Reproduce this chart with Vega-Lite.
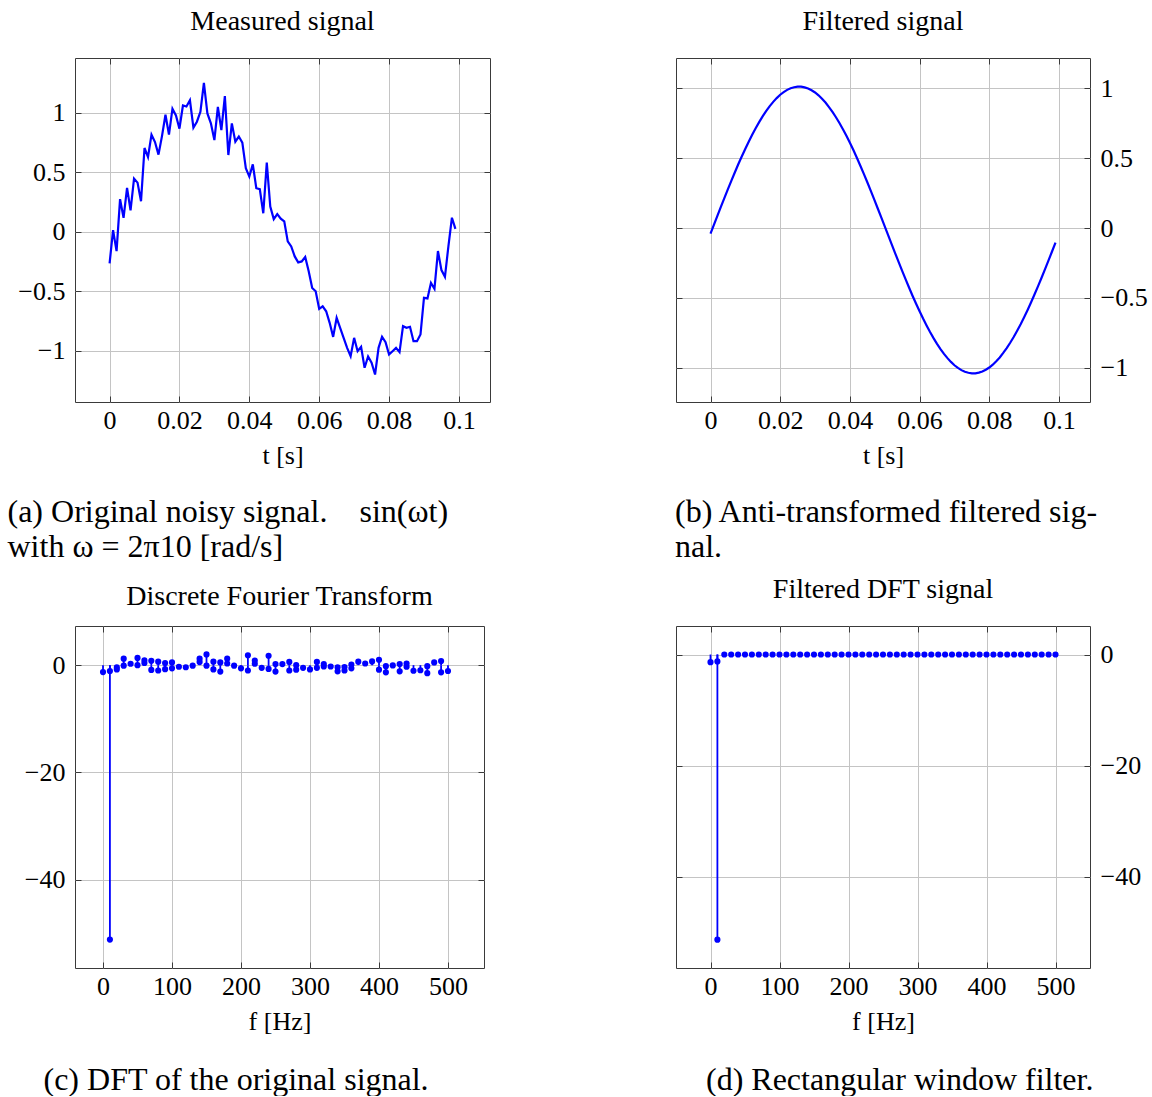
{
  "$schema": "https://vega.github.io/schema/vega-lite/v6.json",
  "padding": {"left": 7, "top": 7, "right": 0, "bottom": 0},
  "background": "white",
  "columns": 2,
  "align": {"row": "each", "column": "none"},
  "spacing": {"row": 12, "column": 184},
  "config": {
    "font": "Liberation Serif",
    "view": {"stroke": "#3a3a3a", "strokeWidth": 1},
    "axis": {
      "labelFont": "Liberation Serif", "labelFontSize": 26, "labelColor": "#000",
      "titleFont": "Liberation Serif", "titleFontSize": 26, "titleFontWeight": "normal", "titleColor": "#000",
      "gridColor": "#c4c4c4", "gridWidth": 1, "tickColor": "#3a3a3a", "tickSize": -6, "tickWidth": 1,
      "domain": false, "labelPadding": 16, "titlePadding": 9
    },
    "axisX": {"labelPadding": 11},
    "title": {"font": "Liberation Serif", "fontSize": 28, "fontWeight": "normal", "color": "#000"}
  },
  "datasets": {
    "noisy": [
      {"t":0.000,"v":-0.265},{"t":0.001,"v":0.014},{"t":0.002,"v":-0.162},{"t":0.003,"v":0.274},{"t":0.004,"v":0.117},
      {"t":0.005,"v":0.369},{"t":0.006,"v":0.18},{"t":0.007,"v":0.447},{"t":0.008,"v":0.413},{"t":0.009,"v":0.257},
      {"t":0.010,"v":0.704},{"t":0.011,"v":0.628},{"t":0.012,"v":0.816},{"t":0.013,"v":0.754},{"t":0.014,"v":0.648},
      {"t":0.015,"v":0.804},{"t":0.016,"v":0.983},{"t":0.017,"v":0.816},{"t":0.018,"v":1.034},{"t":0.019,"v":0.978},
      {"t":0.020,"v":0.866},{"t":0.021,"v":1.061},{"t":0.022,"v":1.053},{"t":0.023,"v":1.105},{"t":0.024,"v":0.875},
      {"t":0.025,"v":0.925},{"t":0.026,"v":1.008},{"t":0.027,"v":1.25},{"t":0.028,"v":0.994},{"t":0.029,"v":0.911},
      {"t":0.030,"v":0.771},{"t":0.031,"v":1.05},{"t":0.032,"v":0.855},{"t":0.033,"v":1.14},{"t":0.034,"v":0.645},
      {"t":0.035,"v":0.911},{"t":0.036,"v":0.757},{"t":0.037,"v":0.8},{"t":0.038,"v":0.749},{"t":0.039,"v":0.534},
      {"t":0.040,"v":0.464},{"t":0.041,"v":0.567},{"t":0.042,"v":0.366},{"t":0.043,"v":0.358},{"t":0.044,"v":0.156},
      {"t":0.045,"v":0.581},{"t":0.046,"v":0.212},{"t":0.047,"v":0.106},{"t":0.048,"v":0.148},{"t":0.049,"v":0.11},
      {"t":0.050,"v":0.087},{"t":0.051,"v":-0.081},{"t":0.052,"v":-0.123},{"t":0.053,"v":-0.207},{"t":0.054,"v":-0.257},
      {"t":0.055,"v":-0.249},{"t":0.056,"v":-0.212},{"t":0.057,"v":-0.332},{"t":0.058,"v":-0.472},{"t":0.059,"v":-0.5},
      {"t":0.060,"v":-0.648},{"t":0.061,"v":-0.626},{"t":0.062,"v":-0.668},{"t":0.063,"v":-0.765},{"t":0.064,"v":-0.883},
      {"t":0.065,"v":-0.723},{"t":0.066,"v":-0.807},{"t":0.067,"v":-0.891},{"t":0.068,"v":-0.975},{"t":0.069,"v":-1.045},
      {"t":0.070,"v":-0.891},{"t":0.071,"v":-1.003},{"t":0.072,"v":-0.966},{"t":0.073,"v":-1.142},{"t":0.074,"v":-1.048},
      {"t":0.075,"v":-1.1},{"t":0.076,"v":-1.199},{"t":0.077,"v":-0.975},{"t":0.078,"v":-0.882},{"t":0.079,"v":-0.927},
      {"t":0.080,"v":-1.031},{"t":0.081,"v":-1.003},{"t":0.082,"v":-0.975},{"t":0.083,"v":-1.011},{"t":0.084,"v":-0.793},
      {"t":0.085,"v":-0.807},{"t":0.086,"v":-0.798},{"t":0.087,"v":-0.919},{"t":0.088,"v":-0.919},{"t":0.089,"v":-0.863},
      {"t":0.090,"v":-0.555},{"t":0.091,"v":-0.56},{"t":0.092,"v":-0.429},{"t":0.093,"v":-0.479},{"t":0.094,"v":-0.162},
      {"t":0.095,"v":-0.322},{"t":0.096,"v":-0.378},{"t":0.097,"v":-0.12},{"t":0.098,"v":0.118},{"t":0.099,"v":0.025}
    ],
    "filtered": [
      {"t":0.000,"v":-0.040},{"t":0.001,"v":0.025},{"t":0.002,"v":0.089},{"t":0.003,"v":0.153},{"t":0.004,"v":0.216},
      {"t":0.005,"v":0.278},{"t":0.006,"v":0.340},{"t":0.007,"v":0.399},{"t":0.008,"v":0.458},{"t":0.009,"v":0.514},
      {"t":0.010,"v":0.568},{"t":0.011,"v":0.620},{"t":0.012,"v":0.669},{"t":0.013,"v":0.716},{"t":0.014,"v":0.760},
      {"t":0.015,"v":0.801},{"t":0.016,"v":0.838},{"t":0.017,"v":0.873},{"t":0.018,"v":0.903},{"t":0.019,"v":0.930},
      {"t":0.020,"v":0.954},{"t":0.021,"v":0.973},{"t":0.022,"v":0.989},{"t":0.023,"v":1.001},{"t":0.024,"v":1.008},
      {"t":0.025,"v":1.012},{"t":0.026,"v":1.012},{"t":0.027,"v":1.007},{"t":0.028,"v":0.999},{"t":0.029,"v":0.986},
      {"t":0.030,"v":0.970},{"t":0.031,"v":0.950},{"t":0.032,"v":0.925},{"t":0.033,"v":0.898},{"t":0.034,"v":0.866},
      {"t":0.035,"v":0.831},{"t":0.036,"v":0.793},{"t":0.037,"v":0.752},{"t":0.038,"v":0.707},{"t":0.039,"v":0.660},
      {"t":0.040,"v":0.610},{"t":0.041,"v":0.558},{"t":0.042,"v":0.503},{"t":0.043,"v":0.446},{"t":0.044,"v":0.388},
      {"t":0.045,"v":0.328},{"t":0.046,"v":0.266},{"t":0.047,"v":0.204},{"t":0.048,"v":0.140},{"t":0.049,"v":0.076},
      {"t":0.050,"v":0.012},{"t":0.051,"v":-0.053},{"t":0.052,"v":-0.117},{"t":0.053,"v":-0.181},{"t":0.054,"v":-0.244},
      {"t":0.055,"v":-0.306},{"t":0.056,"v":-0.368},{"t":0.057,"v":-0.427},{"t":0.058,"v":-0.486},{"t":0.059,"v":-0.542},
      {"t":0.060,"v":-0.596},{"t":0.061,"v":-0.648},{"t":0.062,"v":-0.697},{"t":0.063,"v":-0.744},{"t":0.064,"v":-0.788},
      {"t":0.065,"v":-0.829},{"t":0.066,"v":-0.866},{"t":0.067,"v":-0.901},{"t":0.068,"v":-0.931},{"t":0.069,"v":-0.958},
      {"t":0.070,"v":-0.982},{"t":0.071,"v":-1.001},{"t":0.072,"v":-1.017},{"t":0.073,"v":-1.029},{"t":0.074,"v":-1.036},
      {"t":0.075,"v":-1.040},{"t":0.076,"v":-1.040},{"t":0.077,"v":-1.035},{"t":0.078,"v":-1.027},{"t":0.079,"v":-1.014},
      {"t":0.080,"v":-0.998},{"t":0.081,"v":-0.978},{"t":0.082,"v":-0.953},{"t":0.083,"v":-0.926},{"t":0.084,"v":-0.894},
      {"t":0.085,"v":-0.859},{"t":0.086,"v":-0.821},{"t":0.087,"v":-0.780},{"t":0.088,"v":-0.735},{"t":0.089,"v":-0.688},
      {"t":0.090,"v":-0.638},{"t":0.091,"v":-0.586},{"t":0.092,"v":-0.531},{"t":0.093,"v":-0.474},{"t":0.094,"v":-0.416},
      {"t":0.095,"v":-0.356},{"t":0.096,"v":-0.294},{"t":0.097,"v":-0.232},{"t":0.098,"v":-0.168},{"t":0.099,"v":-0.104}
    ],
    "dft": [
      {"f":0,"v":-1.3},{"f":10,"v":-1.1},{"f":10,"v":-51.2},{"f":20,"v":-0.8},{"f":20,"v":-0.4},
      {"f":30,"v":1.2},{"f":30,"v":-0.1},{"f":40,"v":0.25},{"f":50,"v":1.35},{"f":50,"v":0},
      {"f":60,"v":0.9},{"f":60,"v":0.4},{"f":70,"v":0.8},{"f":70,"v":-0.9},{"f":80,"v":0.65},{"f":80,"v":-1.0},
      {"f":90,"v":0.4},{"f":90,"v":-0.75},{"f":100,"v":0.5},{"f":100,"v":-0.6},{"f":110,"v":-0.3},{"f":120,"v":-0.4},
      {"f":130,"v":-0.1},{"f":140,"v":1.2},{"f":140,"v":0.6},{"f":150,"v":2.0},{"f":150,"v":-0.1},
      {"f":160,"v":0.65},{"f":160,"v":-0.8},{"f":170,"v":0.5},{"f":170,"v":-1.2},{"f":180,"v":1.2},{"f":180,"v":0.3},
      {"f":190,"v":-0.1},{"f":200,"v":-0.6},{"f":210,"v":1.85},{"f":210,"v":-1.0},{"f":220,"v":0.86},{"f":220,"v":0.25},
      {"f":230,"v":-0.5},{"f":240,"v":1.75},{"f":240,"v":-0.7},{"f":250,"v":0.2},{"f":250,"v":-1.2},{"f":260,"v":0.2},
      {"f":270,"v":0.6},{"f":270,"v":-1.0},{"f":280,"v":0},{"f":280,"v":-0.85},{"f":290,"v":-0.5},{"f":300,"v":-0.8},
      {"f":310,"v":0.6},{"f":310,"v":-0.5},{"f":320,"v":0.2},{"f":320,"v":-0.25},{"f":330,"v":-0.25},
      {"f":340,"v":-0.4},{"f":340,"v":-1.15},{"f":350,"v":-0.35},{"f":350,"v":-1.0},{"f":360,"v":0.1},{"f":360,"v":-0.6},
      {"f":370,"v":0.65},{"f":380,"v":0.3},{"f":390,"v":0.7},{"f":400,"v":1.0},{"f":400,"v":-0.85},
      {"f":410,"v":-0.2},{"f":410,"v":-1.35},{"f":420,"v":-0.05},{"f":430,"v":0.2},{"f":430,"v":-1.15},
      {"f":440,"v":0.3},{"f":440,"v":-0.3},{"f":450,"v":-1.05},{"f":460,"v":-0.95},{"f":470,"v":-0.2},{"f":470,"v":-1.5},
      {"f":480,"v":0.5},{"f":490,"v":0.75},{"f":490,"v":-1.35},{"f":500,"v":-1.1}
    ],
    "fdft": [
      {"f":0,"v":-1.37},{"f":10,"v":-1.24},{"f":10,"v":-51.3},
      {"f":20,"v":0},{"f":30,"v":0},{"f":40,"v":0},{"f":50,"v":0},{"f":60,"v":0},{"f":70,"v":0},{"f":80,"v":0},{"f":90,"v":0},
      {"f":100,"v":0},{"f":110,"v":0},{"f":120,"v":0},{"f":130,"v":0},{"f":140,"v":0},{"f":150,"v":0},{"f":160,"v":0},{"f":170,"v":0},
      {"f":180,"v":0},{"f":190,"v":0},{"f":200,"v":0},{"f":210,"v":0},{"f":220,"v":0},{"f":230,"v":0},{"f":240,"v":0},{"f":250,"v":0},
      {"f":260,"v":0},{"f":270,"v":0},{"f":280,"v":0},{"f":290,"v":0},{"f":300,"v":0},{"f":310,"v":0},{"f":320,"v":0},{"f":330,"v":0},
      {"f":340,"v":0},{"f":350,"v":0},{"f":360,"v":0},{"f":370,"v":0},{"f":380,"v":0},{"f":390,"v":0},{"f":400,"v":0},{"f":410,"v":0},
      {"f":420,"v":0},{"f":430,"v":0},{"f":440,"v":0},{"f":450,"v":0},{"f":460,"v":0},{"f":470,"v":0},{"f":480,"v":0},{"f":490,"v":0},
      {"f":500,"v":0}
    ]
  },
  "concat": [
    {
      "title": {"text": ["(a) Original noisy signal.\u00a0\u00a0\u00a0\u00a0sin(ωt)", "with ω = 2π10 [rad/s]"], "orient": "bottom", "anchor": "start", "frame": "bounds", "fontSize": 32, "lineHeight": 35, "offset": 28},
      "vconcat": [
        {
          "title": {"text": "Measured signal", "offset": 22},
          "width": 415, "height": 344,
          "data": {"name": "noisy"},
          "layer": [
            {
              "mark": {"type": "line", "color": "#0000ff", "strokeWidth": 2.2},
              "encoding": {
                "x": {"field": "t", "type": "quantitative", "scale": {"domain": [-0.0099, 0.1089], "nice": false, "zero": false},
                      "axis": {"orient": "bottom", "values": [0, 0.02, 0.04, 0.06, 0.08, 0.1], "format": "~g", "title": "t [s]", "grid": true}},
                "y": {"field": "v", "type": "quantitative", "scale": {"domain": [-1.43, 1.46], "nice": false, "zero": false},
                      "axis": {"orient": "left", "values": [-1, -0.5, 0, 0.5, 1], "format": "~g", "title": null, "grid": true, "minExtent": 67, "maxExtent": 67}}
              }
            },
            {
              "mark": {"type": "line", "opacity": 0},
              "encoding": {
                "x": {"field": "t", "type": "quantitative", "axis": {"orient": "top", "values": [0, 0.02, 0.04, 0.06, 0.08, 0.1], "labels": false, "grid": false, "title": null}},
                "y": {"field": "v", "type": "quantitative", "axis": {"orient": "right", "values": [-1, -0.5, 0, 0.5, 1], "labels": false, "grid": false, "title": null}}
              }
            }
          ],
          "resolve": {"axis": {"x": "independent", "y": "independent"}}
        }
      ]
    },
    {
      "title": {"text": ["(b) Anti-transformed filtered sig-", "nal."], "orient": "bottom", "anchor": "start", "frame": "bounds", "fontSize": 32, "lineHeight": 35, "offset": 28},
      "vconcat": [
        {
          "title": {"text": "Filtered signal", "offset": 22},
          "width": 414, "height": 344,
          "data": {"name": "filtered"},
          "layer": [
            {
              "mark": {"type": "line", "color": "#0000ff", "strokeWidth": 2.2},
              "encoding": {
                "x": {"field": "t", "type": "quantitative", "scale": {"domain": [-0.0099, 0.1089], "nice": false, "zero": false},
                      "axis": {"orient": "bottom", "values": [0, 0.02, 0.04, 0.06, 0.08, 0.1], "format": "~g", "title": "t [s]", "grid": true}},
                "y": {"field": "v", "type": "quantitative", "scale": {"domain": [-1.245, 1.217], "nice": false, "zero": false},
                      "axis": {"orient": "right", "values": [-1, -0.5, 0, 0.5, 1], "format": "~g", "title": null, "grid": true}}
              }
            },
            {
              "mark": {"type": "line", "opacity": 0},
              "encoding": {
                "x": {"field": "t", "type": "quantitative", "axis": {"orient": "top", "values": [0, 0.02, 0.04, 0.06, 0.08, 0.1], "labels": false, "grid": false, "title": null}},
                "y": {"field": "v", "type": "quantitative", "axis": {"orient": "left", "values": [-1, -0.5, 0, 0.5, 1], "labels": false, "grid": false, "title": null}}
              }
            }
          ],
          "resolve": {"axis": {"x": "independent", "y": "independent"}}
        }
      ]
    },
    {
      "title": {"text": "(c) DFT of the original signal.", "orient": "bottom", "anchor": "start", "frame": "bounds", "fontSize": 32, "offset": 30, "dx": 29},
      "vconcat": [
        {
          "title": {"text": "Discrete Fourier Transform", "offset": 15},
          "width": 409, "height": 342,
          "data": {"name": "dft"},
          "layer": [
            {
              "mark": {"type": "rule", "color": "#0000ff", "strokeWidth": 1.8},
              "encoding": {
                "x": {"field": "f", "type": "quantitative", "scale": {"domain": [-40.6, 552.2], "nice": false, "zero": false},
                      "axis": {"orient": "bottom", "values": [0, 100, 200, 300, 400, 500], "format": "d", "title": "f [Hz]", "grid": true}},
                "y": {"field": "v", "type": "quantitative", "scale": {"domain": [-56.5, 7.3], "nice": false, "zero": false},
                      "axis": {"orient": "left", "values": [-40, -20, 0], "format": "d", "title": null, "grid": true, "minExtent": 60, "maxExtent": 60}},
                "y2": {"datum": 0}
              }
            },
            {
              "mark": {"type": "point", "filled": true, "color": "#0000ff", "opacity": 1, "size": 38},
              "encoding": {
                "x": {"field": "f", "type": "quantitative", "axis": {"orient": "top", "values": [0, 100, 200, 300, 400, 500], "labels": false, "grid": false, "title": null}},
                "y": {"field": "v", "type": "quantitative", "axis": {"orient": "right", "values": [-40, -20, 0], "labels": false, "grid": false, "title": null}}
              }
            }
          ],
          "resolve": {"axis": {"x": "independent", "y": "independent"}}
        }
      ]
    },
    {
      "title": {"text": "(d) Rectangular window filter.", "orient": "bottom", "anchor": "start", "frame": "bounds", "fontSize": 32, "offset": 30, "dx": 31},
      "vconcat": [
        {
          "title": {"text": "Filtered DFT signal", "offset": 22},
          "width": 414, "height": 342,
          "data": {"name": "fdft"},
          "layer": [
            {
              "mark": {"type": "rule", "color": "#0000ff", "strokeWidth": 1.8},
              "encoding": {
                "x": {"field": "f", "type": "quantitative", "scale": {"domain": [-50, 550], "nice": false, "zero": false},
                      "axis": {"orient": "bottom", "values": [0, 100, 200, 300, 400, 500], "format": "d", "title": "f [Hz]", "grid": true}},
                "y": {"field": "v", "type": "quantitative", "scale": {"domain": [-56.4, 5.13], "nice": false, "zero": false},
                      "axis": {"orient": "right", "values": [-40, -20, 0], "format": "d", "title": null, "grid": true}},
                "y2": {"datum": 0}
              }
            },
            {
              "mark": {"type": "point", "filled": true, "color": "#0000ff", "opacity": 1, "size": 38},
              "encoding": {
                "x": {"field": "f", "type": "quantitative", "axis": {"orient": "top", "values": [0, 100, 200, 300, 400, 500], "labels": false, "grid": false, "title": null}},
                "y": {"field": "v", "type": "quantitative", "axis": {"orient": "left", "values": [-40, -20, 0], "labels": false, "grid": false, "title": null}}
              }
            }
          ],
          "resolve": {"axis": {"x": "independent", "y": "independent"}}
        }
      ]
    }
  ]
}
